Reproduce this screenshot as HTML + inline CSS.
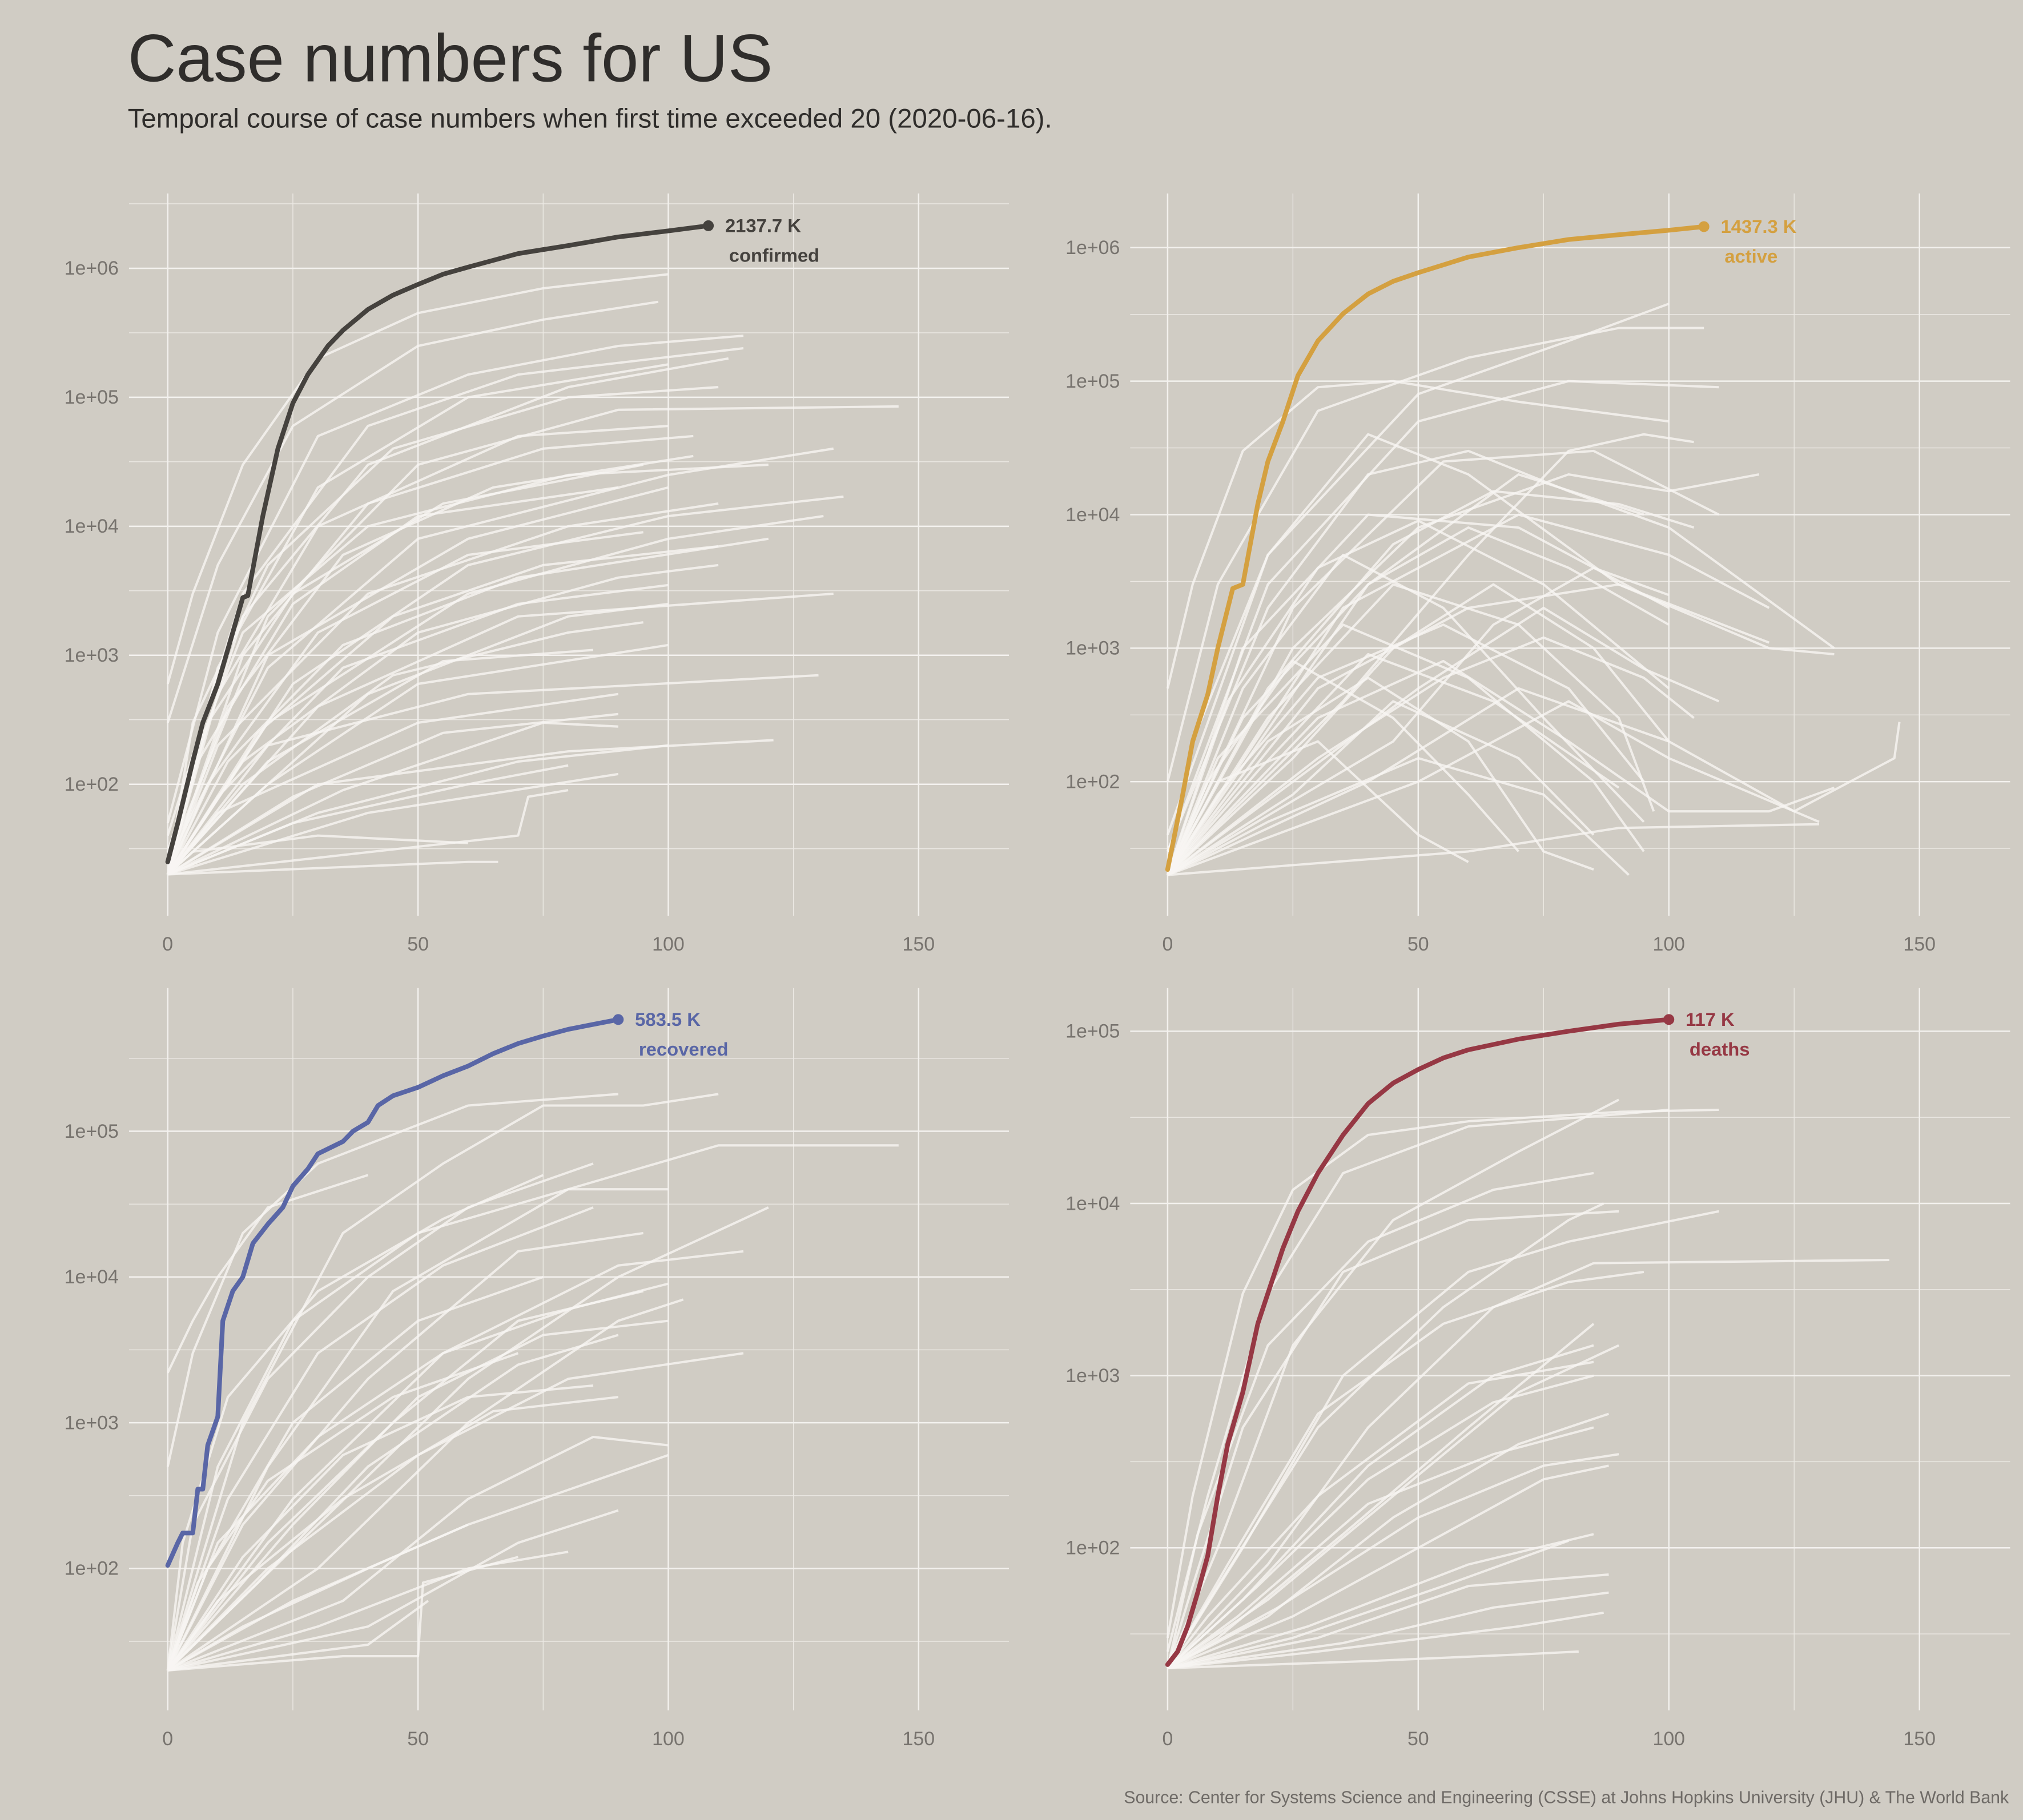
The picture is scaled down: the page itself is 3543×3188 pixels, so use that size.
<!DOCTYPE html>
<html><head><meta charset="utf-8">
<style>
html,body{margin:0;padding:0;background:#d0ccc4;}
svg{display:block;font-family:"Liberation Sans",sans-serif;}
</style></head>
<body>
<svg id="chart" width="3543" height="3188" viewBox="0 0 1568 1411" preserveAspectRatio="none" xmlns="http://www.w3.org/2000/svg">
<rect x="0" y="0" width="1568" height="1411" fill="#d0ccc4"/>
<text x="99" y="63" font-size="52" fill="#2f2d2b">Case numbers for US</text>
<text x="99" y="99" font-size="21" fill="#2f2d2b">Temporal course of case numbers when first time exceeded 20 (2020-06-16).</text>
<text x="1557" y="1398" font-size="13.4" fill="#6e6a66" text-anchor="end">Source: Center for Systems Science and Engineering (CSSE) at Johns Hopkins University (JHU) &amp; The World Bank</text>
<g id="panels"></g>
</svg>
<script>
// ---- data ----
const xTicks = [0, 50, 100, 150];
const yTicksTop = [2, 3, 4, 5, 6];
const yTicksBottom = [2, 3, 4, 5];
const seriesNames = ["confirmed", "active", "recovered", "deaths"];
const seriesLabels = ["2137.7 K", "1437.3 K", "583.5 K", "117 K"];
const seriesColors = ["#45423e", "#d4a040", "#5966a6", "#963844"];

const usConfirmed = [[0,25],[2,50],[5,150],[7,300],[10,600],[13,1500],[15,2800],[16,2900],[19,12000],[22,40000],[25,90000],[28,150000],[32,250000],[35,330000],[40,480000],[45,620000],[50,750000],[55,900000],[60,1020000],[70,1300000],[80,1500000],[90,1750000],[100,1950000],[108,2137700]];
const usActive = [[0,22],[3,80],[5,200],[8,450],[10,1000],[13,2800],[15,3000],[18,12000],[20,25000],[23,50000],[26,110000],[30,200000],[35,320000],[40,450000],[45,560000],[50,650000],[60,850000],[70,1000000],[80,1150000],[90,1250000],[100,1350000],[107,1437300]];
const usRecovered = [[0,105],[2,150],[3,175],[5,175],[6,350],[7,350],[8,700],[10,1100],[11,5000],[13,8000],[15,10000],[17,17000],[20,23000],[23,30000],[25,42000],[28,55000],[30,70000],[35,85000],[37,100000],[40,115000],[42,150000],[45,175000],[50,200000],[55,240000],[60,280000],[65,340000],[70,400000],[75,450000],[80,500000],[85,540000],[90,583500]];
const usDeaths = [[0,21],[2,25],[4,35],[6,55],[8,90],[10,200],[12,400],[15,800],[18,2000],[20,3000],[23,5500],[26,9000],[30,15000],[35,25000],[40,38000],[45,50000],[50,60000],[55,70000],[60,78000],[70,90000],[80,100000],[90,110000],[100,117000]];

const bgConfirmed = [
[[0,600],[5,3000],[15,30000],[30,200000],[50,450000],[75,700000],[100,900000]],
[[0,300],[10,5000],[25,60000],[50,250000],[75,400000],[98,550000]],
[[0,50],[10,1500],[30,50000],[60,150000],[90,250000],[115,300000]],
[[0,40],[15,3000],[40,60000],[70,150000],[115,240000]],
[[0,30],[15,2000],[40,30000],[80,120000],[112,200000]],
[[0,25],[20,2000],[50,30000],[90,80000],[146,85000]],
[[0,25],[20,800],[50,8000],[100,25000],[133,40000]],
[[0,20],[25,600],[60,5000],[100,12000],[135,17000]],
[[0,20],[20,300],[60,3000],[100,8000],[131,12000]],
[[0,20],[30,400],[70,2000],[133,3000]],
[[0,20],[20,200],[60,500],[130,700]],
[[0,20],[30,100],[80,180],[121,220]],
[[0,20],[40,60],[90,120]],
[[0,20],[60,25],[66,25]],
[[0,20],[5,300],[20,5000],[45,40000],[80,100000],[110,120000]],
[[0,20],[10,500],[30,10000],[70,50000],[100,60000]],
[[0,20],[10,200],[40,3000],[80,10000],[110,15000]],
[[0,20],[15,150],[50,1500],[90,4000],[110,5000]],
[[0,20],[20,100],[50,600],[100,1200]],
[[0,20],[10,60],[50,300],[90,500]],
[[0,20],[25,50],[60,100],[80,140]],
[[0,20],[5,30],[30,40],[60,35]],
[[0,20],[10,800],[30,20000],[60,100000],[100,180000]],
[[0,20],[15,1000],[40,15000],[75,40000],[105,50000]],
[[0,20],[20,1000],[60,8000],[100,20000]],
[[0,20],[40,500],[80,2000],[100,2500]],
[[0,20],[70,40],[72,80],[80,90]],
[[0,20],[8,300],[25,3000],[55,15000],[95,30000]],
[[0,20],[12,150],[35,1200],[70,4000],[120,8000]],
[[0,20],[8,100],[30,1500],[60,6000],[95,9000]],
[[0,20],[10,80],[35,800],[70,2500],[100,3500]],
[[0,20],[15,100],[45,700],[80,1500],[95,1800]],
[[0,20],[6,150],[25,2500],[50,12000],[90,20000]],
[[0,20],[20,150],[55,900],[85,1100]],
[[0,20],[25,80],[55,250],[90,350]],
[[0,20],[30,60],[70,150],[100,200]],
[[0,20],[12,400],[35,6000],[65,20000],[105,35000]],
[[0,20],[18,250],[45,2000],[75,5000],[110,7000]],
[[0,20],[4,120],[15,1500],[40,10000],[80,25000],[120,30000]],
[[0,20],[35,90],[75,300],[90,280]]
];
const bgActive = [
[[0,500],[5,3000],[15,30000],[30,90000],[45,100000],[70,70000],[100,50000]],
[[0,100],[10,3000],[30,60000],[60,150000],[90,250000],[107,250000]],
[[0,40],[20,5000],[50,80000],[80,200000],[100,380000]],
[[0,30],[20,3000],[50,50000],[80,100000],[110,90000]],
[[0,30],[20,2000],[40,20000],[60,30000],[80,15000],[100,8000],[133,1000]],
[[0,20],[25,1000],[50,8000],[80,20000],[100,15000],[118,20000]],
[[0,20],[15,500],[35,5000],[55,2000],[75,300],[95,50]],
[[0,20],[20,300],[45,3000],[70,1500],[90,300],[97,60]],
[[0,20],[30,500],[60,2000],[90,3000],[120,1000],[133,900]],
[[0,20],[20,200],[40,600],[60,200],[75,30],[85,22]],
[[0,20],[30,300],[55,800],[80,200],[100,60],[120,60],[133,90]],
[[0,20],[40,100],[70,500],[100,200],[125,60],[145,150],[146,280]],
[[0,20],[10,100],[30,200],[50,40],[60,25]],
[[0,20],[20,50],[50,150],[75,80],[92,20]],
[[0,20],[15,1000],[40,10000],[70,8000],[100,2000]],
[[0,20],[25,2000],[55,25000],[85,30000],[110,10000]],
[[0,20],[35,2000],[70,10000],[100,5000],[120,2000]],
[[0,20],[50,100],[80,400],[100,150],[130,50]],
[[0,20],[60,30],[90,45],[130,48]],
[[0,20],[5,200],[20,5000],[40,40000],[60,20000],[90,3000],[120,1100]],
[[0,20],[40,3000],[70,20000],[95,10000]],
[[0,20],[10,150],[35,1500],[60,600],[85,100],[95,30]],
[[0,20],[12,400],[30,4000],[50,9000],[75,3000],[100,500]],
[[0,20],[25,150],[45,1000],[65,3000],[85,1000],[100,200]],
[[0,20],[15,300],[40,3000],[60,8000],[80,4000],[100,1500]],
[[0,20],[20,500],[45,6000],[65,15000],[90,12000],[105,8000]],
[[0,20],[10,80],[30,600],[55,1500],[80,500],[95,100]],
[[0,20],[30,150],[55,600],[75,1200],[95,600],[105,300]],
[[0,20],[25,80],[45,400],[70,150],[85,40]],
[[0,20],[45,200],[65,1500],[85,4000],[100,2500]],
[[0,20],[8,100],[25,800],[45,300],[60,80],[70,30]],
[[0,20],[35,400],[60,5000],[80,30000],[95,40000],[105,35000]],
[[0,20],[50,500],[75,2000],[95,700],[110,400]],
[[0,20],[18,120],[40,900],[65,400],[90,90]]
];
const bgRecovered = [
[[0,500],[5,3000],[15,20000],[30,60000],[60,150000],[90,180000]],
[[0,2200],[5,5000],[10,10000],[20,30000],[40,50000]],
[[0,20],[15,1000],[35,20000],[55,60000],[75,150000],[95,150000],[110,180000]],
[[0,20],[20,500],[45,8000],[80,40000],[110,80000],[146,80000]],
[[0,20],[30,200],[60,2000],[90,10000],[120,30000]],
[[0,20],[25,300],[55,3000],[90,12000],[115,15000]],
[[0,20],[30,100],[60,1000],[90,5000],[103,7000]],
[[0,20],[20,100],[50,600],[80,2000],[115,3000]],
[[0,20],[25,60],[60,200],[100,600]],
[[0,20],[30,40],[60,100],[80,130]],
[[0,20],[40,30],[52,60]],
[[0,20],[10,500],[25,5000],[50,20000],[80,40000],[100,40000]],
[[0,20],[15,200],[40,2000],[70,15000],[95,20000]],
[[0,20],[20,150],[45,1000],[70,5000],[95,8000]],
[[0,20],[10,60],[35,300],[65,1200],[90,1500]],
[[0,20],[15,40],[40,100],[60,200]],
[[0,20],[5,200],[20,2000],[40,10000],[60,30000],[85,60000]],
[[0,20],[35,25],[50,25],[51,80],[70,120]],
[[0,20],[8,100],[25,1000],[50,5000],[75,10000]],
[[0,20],[12,300],[30,3000],[55,12000],[85,30000]],
[[0,20],[10,150],[30,800],[55,3000],[80,6000],[100,9000]],
[[0,20],[18,80],[40,500],[70,2500],[90,4000]],
[[0,20],[25,200],[50,1500],[75,4000],[100,5000]],
[[0,20],[6,80],[20,400],[45,1500],[70,3000]],
[[0,20],[35,60],[60,300],[85,800],[100,700]],
[[0,20],[3,150],[12,1500],[30,8000],[55,25000],[75,50000]],
[[0,20],[40,40],[70,150],[90,250]],
[[0,20],[15,120],[35,600],[60,1500],[85,1800]]
];
const bgDeaths = [
[[0,30],[5,200],[15,3000],[25,12000],[40,25000],[60,30000],[90,34000],[110,35000]],
[[0,25],[8,200],[20,3000],[35,15000],[60,28000],[90,33000],[100,35000]],
[[0,20],[10,100],[25,1500],[45,8000],[70,20000],[90,40000]],
[[0,20],[15,100],[35,1000],[60,4000],[80,6000],[110,9000]],
[[0,20],[20,80],[40,500],[65,2500],[85,4500],[144,4700]],
[[0,20],[20,50],[45,200],[70,800],[90,1500]],
[[0,20],[25,40],[50,100],[75,250],[88,300]],
[[0,20],[30,30],[60,60],[88,70]],
[[0,20],[30,25],[70,35],[87,42]],
[[0,20],[10,60],[30,500],[55,2500],[80,8000],[87,10000]],
[[0,20],[15,50],[40,300],[65,1000],[85,1500]],
[[0,20],[20,40],[45,150],[70,400],[88,600]],
[[0,20],[25,30],[55,60],[80,110]],
[[0,20],[40,22],[70,24],[82,25]],
[[0,20],[5,60],[15,500],[35,4000],[60,8000],[90,9000]],
[[0,20],[10,30],[35,120],[60,500],[85,2000]],
[[0,20],[18,60],[40,250],[65,700],[85,1000]],
[[0,20],[12,80],[30,600],[55,2000],[80,3500],[95,4000]],
[[0,20],[22,45],[50,150],[75,300],[90,350]],
[[0,20],[8,40],[30,200],[60,900],[85,1200]],
[[0,20],[28,35],[60,80],[85,120]],
[[0,20],[14,40],[40,180],[65,350],[85,500]],
[[0,20],[6,120],[20,1500],[40,6000],[65,12000],[85,15000]],
[[0,20],[35,28],[65,45],[88,55]]
];

const mainSeries = [usConfirmed, usActive, usRecovered, usDeaths];
const bgSeries = [bgConfirmed, bgActive, bgRecovered, bgDeaths];

// ---- layout (not data) ----
const panelLayout = [
 {x0:130, xs:3.88, y100:608,  dec:100,   area:[100,150,782,710],   yt:yTicksTop,    lx:92},
 {x0:905, xs:3.885,y100:606,  dec:103.5, area:[876,150,1558,710],  yt:yTicksTop,    lx:868},
 {x0:130, xs:3.88, y100:1216, dec:113,   area:[100,766,782,1326],  yt:yTicksBottom, lx:92},
 {x0:905, xs:3.885,y100:1200, dec:133.5, area:[876,766,1558,1326], yt:yTicksBottom, lx:868}
];
const NS = "http://www.w3.org/2000/svg";
const root = document.getElementById("panels");
function mk(tag, attrs, parent){
  const e = document.createElementNS(NS, tag);
  for (const k in attrs) e.setAttribute(k, attrs[k]);
  parent.appendChild(e);
  return e;
}
panelLayout.forEach((L, i) => {
  const g = mk("g", {}, root);
  
  
  const px = d => L.x0 + d * L.xs;
  const py = v => L.y100 - (Math.log10(v) - 2) * L.dec;
  const [ax0, ay0, ax1, ay1] = L.area;
  for (let k = 1; k <= L.yt[L.yt.length-1]; k++) {
    const y = L.y100 - (k + 0.5 - 2) * L.dec;
    if (y > ay0 && y < ay1) {
      const ln = mk("line", {x1:ax0, x2:ax1, y1:y, y2:y, stroke:"#ece9e4", "stroke-width":0.6}, g);
      
      
    }
  }
  [25, 75, 125].forEach(d => {
    const ln = mk("line", {x1:px(d), x2:px(d), y1:ay0, y2:ay1, stroke:"#ece9e4", "stroke-width":0.6}, g);
    
    
  });
  L.yt.forEach(k => {
    const y = py(Math.pow(10, k));
    const ln = mk("line", {x1:ax0, x2:ax1, y1:y, y2:y, stroke:"#f3f1ee", "stroke-width":1.1}, g);
    
    
    const t = mk("text", {x:L.lx, y:y+5, "font-size":15, fill:"#77736e", "text-anchor":"end"}, g);
    t.textContent = "1e+0" + k;
    
    
  });
  xTicks.forEach(d => {
    const ln = mk("line", {x1:px(d), x2:px(d), y1:ay0, y2:ay1, stroke:"#f3f1ee", "stroke-width":1.1}, g);
    
    
    const t = mk("text", {x:px(d), y:ay1+27, "font-size":15, fill:"#77736e", "text-anchor":"middle"}, g);
    t.textContent = d;
    
    
  });
  bgSeries[i].forEach(s => {
    const p = mk("polyline", {points: s.map(q => px(q[0]).toFixed(1)+","+py(q[1]).toFixed(1)).join(" "), fill:"none", stroke:"#f7f5f2", "stroke-width":1.8, "stroke-opacity":0.8, "stroke-linejoin":"round"}, g);
    
    
  });
  const s = mainSeries[i];
  const col = seriesColors[i];
  const p = mk("polyline", {points: s.map(q => px(q[0]).toFixed(1)+","+py(q[1]).toFixed(1)).join(" "), fill:"none", stroke:col, "stroke-width":3.6, "stroke-linejoin":"round", "stroke-linecap":"round"}, g);
  
  
  const last = s[s.length-1];
  const ex = px(last[0]), ey = py(last[1]);
  const c = mk("circle", {cx:ex, cy:ey, r:4.2, fill:col}, g);
  
  
  const t1 = mk("text", {x:ex+13, y:ey+5, "font-size":14.5, "font-weight":"bold", fill:col}, g);
  t1.textContent = seriesLabels[i];
  
  
  const t2 = mk("text", {x:ex+16, y:ey+28, "font-size":14.5, "font-weight":"bold", fill:col}, g);
  t2.textContent = seriesNames[i];
  
  
});
</script>
</body></html>
